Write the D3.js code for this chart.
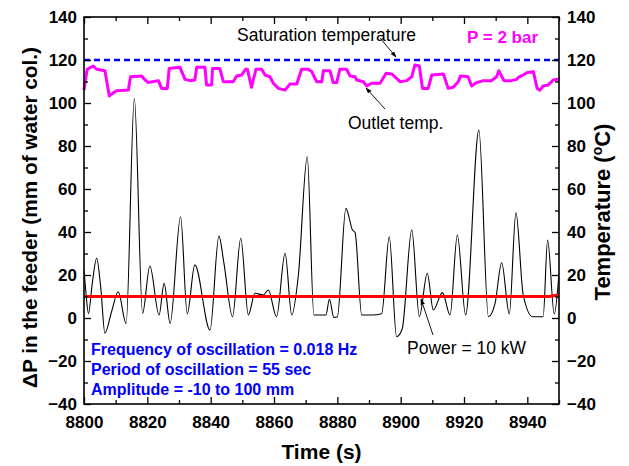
<!DOCTYPE html>
<html><head><meta charset="utf-8">
<script src="https://cdn.jsdelivr.net/npm/d3@7"></script>
<style>
html,body{margin:0;padding:0;background:#fff;}
svg text{font-family:Arial,"Liberation Sans",sans-serif;}
</style></head>
<body><svg id="c" width="629" height="466"></svg>
<script>
// ---- data ----
const dpTime = [8800,8800.6,8801.4,8802.6,8804,8805.3,8806.6,8808.7,8810.8,8813.3,8815.9,8818.5,8820.8,8823.7,8825.3,8827.2,8830.5,8832.6,8835,8839.8,8842.6,8844.2,8846.9,8849.5,8851.9,8854,8856.6,8858.2,8860.8,8863.5,8865.6,8867.7,8870.5,8872.6,8876.4,8877.5,8878.9,8880,8882.7,8884.8,8885.6,8887.7,8891,8894,8896.4,8898.7,8900.5,8903.5,8905.9,8908.4,8910.3,8913.2,8915.6,8917.9,8920.5,8924.7,8927.7,8929.8,8931.9,8934.3,8936.4,8938.7,8941.7,8945,8946.4,8948.5,8950];
const dpValue = [22,12,2,16,27.8,14,-7.1,2.9,12.2,-2.5,102.2,2.2,24.2,1.4,16.1,-2.5,47.1,1.9,24.7,-5.6,38.1,25.4,0.6,37.1,1.4,11.5,10.7,13,0.6,30.1,1.4,20,75,1.4,1.4,8.7,0.3,0.5,51,40.9,39.8,1.4,1.4,2,37.8,-8.7,-5,41,0.6,20.8,3.7,11.8,1.4,38.6,1.4,87.4,0.6,6.8,25.7,1.9,49,10.7,0.6,0.6,36.3,1.9,20.8];
const tempTime = [8800,8801,8802.9,8804,8806.6,8808,8809.1,8810.3,8814,8814.7,8818.2,8819.3,8820.3,8823.5,8824.5,8826.3,8826.9,8830.3,8831.9,8833.5,8835,8835.6,8838.2,8838.7,8840.3,8840.6,8842.9,8844,8847.1,8848.2,8849.8,8851,8851.6,8852.9,8854.3,8856.1,8857.2,8858.7,8859.8,8861.4,8863.5,8865,8867.2,8868.7,8870.8,8871.9,8873.5,8875.1,8875.6,8877.7,8878.7,8879.8,8880.8,8882.9,8884,8885.6,8886.1,8888.2,8889.3,8890.8,8893.5,8895.4,8897.2,8899.8,8901.9,8903.5,8904.5,8905.9,8906.9,8908.7,8909.8,8913.5,8915,8916.6,8918.2,8918.9,8921.3,8922.4,8924,8926.1,8928.7,8930.3,8931,8932.6,8935,8936.6,8937.4,8938.7,8939.8,8941.9,8943.1,8944,8945,8946.6,8948.2,8950.3];
const tempValue = [106,115.7,117.2,115.7,115,103.3,104.5,105.7,106,112.2,112.6,110.7,109.5,110.4,106.8,106.8,116.1,116.6,111,110.4,110.7,116.6,116.6,108.4,108.4,116.1,116.1,109.9,109.9,112.6,113,115.7,115.7,107.3,115.7,115.7,113,112.2,109.2,106.8,106,108.8,108.8,115.7,115.7,114.6,109.9,109.9,115,115,109.5,109.5,115.7,115.7,112.6,112.2,110.7,109.9,107.9,109.2,109.2,113.8,113.5,109.9,110.4,112.2,117.7,117.2,106.8,106.8,113,113.5,106.8,107.3,109.9,112.6,112.2,107.9,109.5,110.4,110.4,112.2,115,110.4,110.4,111,112.2,113,114.1,114.6,106.8,106,107.9,108.4,110.7,111.2];
const satTime = [8800, 8950];
const satValue = [120, 120];
const powerTime = [8800, 8947, 8950];
const powerValue = [10, 10, 10.8];
const xMajor = [8800,8820,8840,8860,8880,8900,8920,8940];
const xMinor = [8810,8830,8850,8870,8890,8910,8930,8950];
const yMajor = [-40,-20,0,20,40,60,80,100,120,140];
const yMinor = [-30,-10,10,30,50,70,90,110,130];

// ---- layout ----
const svg = d3.select("#c");
const L=84, R=559, T=17, B=404;
const x = d3.scaleLinear().domain([8800,8950]).range([L,R]);
const y = d3.scaleLinear().domain([-40,140]).range([B,T]);
const y2 = d3.scaleLinear().domain([-40,140]).range([B,T]);

const defs = svg.append("defs");
defs.append("marker").attr("id","ah").attr("viewBox","0 0 10 10").attr("refX",9).attr("refY",5)
  .attr("markerWidth",7).attr("markerHeight",7).attr("orient","auto")
  .append("path").attr("d","M0,1.5 L10,5 L0,8.5 Z").attr("fill","#000");
defs.append("clipPath").attr("id","clip").append("rect").attr("x",L).attr("y",T).attr("width",R-L).attr("height",B-T);

const dp = dpTime.map((t,i)=>[t,dpValue[i]]);
const tp = tempTime.map((t,i)=>[t,tempValue[i]]);
const sp = satTime.map((t,i)=>[t,satValue[i]]);
const pp = powerTime.map((t,i)=>[t,powerValue[i]]);

svg.append("path").datum(dp).attr("fill","none").attr("stroke","#000").attr("stroke-width",1.1)
  .attr("clip-path","url(#clip)")
  .attr("d", d3.line().x(d=>x(d[0])).y(d=>y(d[1])).curve(d3.curveMonotoneX));
svg.append("path").datum(pp).attr("fill","none").attr("stroke","#ff0000").attr("stroke-width",3)
  .attr("d", d3.line().x(d=>x(d[0])).y(d=>y(d[1])));
svg.append("path").datum(sp).attr("fill","none").attr("stroke","#0000ff").attr("stroke-width",2.6)
  .attr("stroke-dasharray","6,4")
  .attr("d", d3.line().x(d=>x(d[0])).y(d=>y2(d[1])));
svg.append("path").datum(tp).attr("fill","none").attr("stroke","#ff00ff").attr("stroke-width",3)
  .attr("stroke-linejoin","round")
  .attr("d", d3.line().x(d=>x(d[0])).y(d=>y2(d[1])));

function styleAxis(g){
  g.select(".domain").remove();
  g.selectAll("line").attr("stroke","#000").attr("stroke-width",1.3);
  g.selectAll("text").attr("font-size","17px").attr("font-weight","bold").attr("fill","#000")
    .style("font-family","Arial, 'Liberation Sans', sans-serif");
}
const fmt = d3.format("d");
svg.append("g").attr("transform",`translate(0,${B})`).call(d3.axisBottom(x).tickValues(xMajor).tickSize(-7).tickPadding(12).tickFormat(fmt)).call(styleAxis);
svg.append("g").attr("transform",`translate(0,${B})`).call(d3.axisBottom(x).tickValues(xMinor).tickSize(-4).tickFormat("")).call(styleAxis);
svg.append("g").attr("transform",`translate(0,${T})`).call(d3.axisTop(x).tickValues(xMajor).tickSize(-7).tickFormat("")).call(styleAxis);
svg.append("g").attr("transform",`translate(0,${T})`).call(d3.axisTop(x).tickValues(xMinor).tickSize(-4).tickFormat("")).call(styleAxis);
svg.append("g").attr("transform",`translate(${L},0)`).call(d3.axisLeft(y).tickValues(yMajor).tickSize(-7).tickPadding(7).tickFormat(fmt)).call(styleAxis);
svg.append("g").attr("transform",`translate(${L},0)`).call(d3.axisLeft(y).tickValues(yMinor).tickSize(-4).tickFormat("")).call(styleAxis);
svg.append("g").attr("transform",`translate(${R},0)`).call(d3.axisRight(y2).tickValues(yMajor).tickSize(-7).tickPadding(8).tickFormat(fmt)).call(styleAxis);
svg.append("g").attr("transform",`translate(${R},0)`).call(d3.axisRight(y2).tickValues(yMinor).tickSize(-4).tickFormat("")).call(styleAxis);

svg.append("rect").attr("x",L).attr("y",T).attr("width",R-L).attr("height",B-T)
  .attr("fill","none").attr("stroke","#000").attr("stroke-width",1.6);

// axis titles
svg.append("text").attr("x",(L+R)/2).attr("y",459).attr("text-anchor","middle")
  .attr("font-size","21px").attr("font-weight","bold").text("Time (s)");
svg.append("text").attr("transform","translate(37,217.5) rotate(-90)").attr("text-anchor","middle")
  .attr("font-size","21px").attr("font-weight","bold")
  .attr("textLength",341).attr("lengthAdjust","spacingAndGlyphs")
  .text("ΔP in the feeder (mm of water col.)");
const rt = svg.append("text").attr("transform","translate(610,212) rotate(-90)").attr("text-anchor","middle")
  .attr("font-size","22px").attr("font-weight","bold");
rt.append("tspan").text("Temperature (");
rt.append("tspan").attr("font-size","14px").attr("dy","-8").text("o");
rt.append("tspan").attr("dy","8").text("C)");

// annotations
svg.append("text").attr("x",237).attr("y",41).attr("font-size","17.5px").text("Saturation temperature");
svg.append("line").attr("x1",380).attr("y1",38).attr("x2",396).attr("y2",57).attr("stroke","#000").attr("stroke-width",0.9).attr("marker-end","url(#ah)");
svg.append("text").attr("x",467).attr("y",43).attr("font-size","17px").attr("font-weight","bold").attr("fill","#ff00ff").text("P = 2 bar");
svg.append("text").attr("x",348).attr("y",128.5).attr("font-size","17.5px").text("Outlet temp.");
svg.append("line").attr("x1",385).attr("y1",109).attr("x2",366).attr("y2",88).attr("stroke","#000").attr("stroke-width",0.9).attr("marker-end","url(#ah)");
svg.append("text").attr("x",407).attr("y",353.5).attr("font-size","17.5px").text("Power = 10 kW");
svg.append("line").attr("x1",433).attr("y1",335).attr("x2",421).attr("y2",299).attr("stroke","#000").attr("stroke-width",0.9).attr("marker-end","url(#ah)");

const info = ["Frequency of oscillation = 0.018 Hz","Period of oscillation = 55 sec","Amplitude = -10 to 100 mm"];
info.forEach((s,i)=>{
  svg.append("text").attr("x",91).attr("y",355+i*19.8).attr("font-size","16px").attr("font-weight","bold")
    .attr("fill","#0000ff").text(s);
});
</script></body></html>
